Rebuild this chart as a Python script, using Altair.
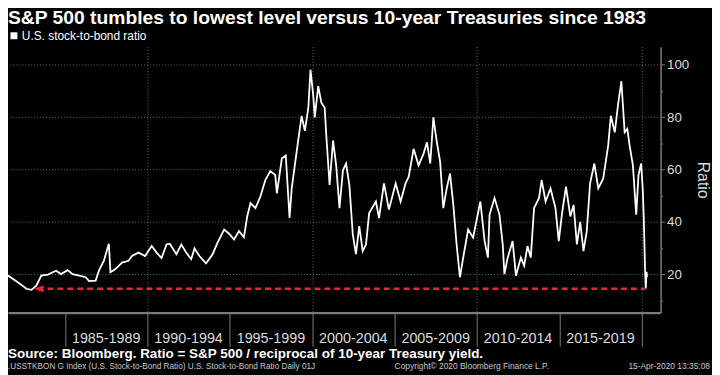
import altair as alt
import pandas as pd

# ---------------- text ----------------
title_text = "S&P 500 tumbles to lowest level versus 10-year Treasuries since 1983"
series_name = "U.S. stock-to-bond ratio"
source_text = "Source: Bloomberg. Ratio = S&P 500 / reciprocal of 10-year Treasury yield."
footer_left = ".USSTKBON G Index (U.S. Stock-to-Bond Ratio) U.S. Stock-to-Bond Ratio  Daily 01J"
footer_mid = "Copyright\u00a9 2020 Bloomberg Finance L.P."
footer_right = "15-Apr-2020 13:35:08"
y_title = "Ratio"

# ---------------- series (decimal year, ratio) ----------------
years = [
    1981.06, 1981.55, 1981.85, 1982.26, 1982.66, 1982.96, 1983.26, 1983.56, 1983.96, 1984.26,
    1984.46, 1984.76, 1985.16, 1985.46, 1985.86, 1986.26, 1986.46, 1986.86, 1987.06, 1987.36,
    1987.66, 1987.76, 1988.06, 1988.46, 1988.86, 1989.06, 1989.46, 1989.86, 1990.26, 1990.56,
    1990.86, 1991.16, 1991.36, 1991.76, 1992.06, 1992.36, 1992.66, 1992.86, 1993.16, 1993.56,
    1993.96, 1994.26, 1994.66, 1994.96, 1995.26, 1995.56, 1995.86, 1996.06, 1996.26, 1996.56,
    1996.86, 1997.16, 1997.46, 1997.76, 1997.86, 1998.16, 1998.40, 1998.63, 1998.76, 1999.06,
    1999.36, 1999.56, 1999.77, 1999.90, 2000.07, 2000.16, 2000.37, 2000.56, 2000.76, 2000.86,
    2001.06, 2001.27, 2001.46, 2001.66, 2001.87, 2002.06, 2002.26, 2002.47, 2002.66, 2002.86,
    2003.07, 2003.27, 2003.46, 2003.87, 2004.06, 2004.36, 2004.66, 2005.07, 2005.37, 2005.67,
    2005.86, 2006.16, 2006.46, 2006.76, 2006.97, 2007.17, 2007.36, 2007.57, 2007.77, 2007.96,
    2008.17, 2008.37, 2008.57, 2008.77, 2008.97, 2009.17, 2009.47, 2009.77, 2010.07, 2010.21,
    2010.47, 2010.67, 2010.77, 2011.07, 2011.37, 2011.57, 2011.67, 2011.87, 2012.17, 2012.37,
    2012.67, 2012.87, 2013.07, 2013.27, 2013.47, 2013.77, 2013.93, 2014.17, 2014.47, 2014.77,
    2014.97, 2015.17, 2015.41, 2015.67, 2015.87, 2016.07, 2016.27, 2016.47, 2016.67, 2016.87,
    2017.13, 2017.37, 2017.67, 2017.97, 2018.13, 2018.37, 2018.57, 2018.77, 2018.97, 2019.13,
    2019.27, 2019.47, 2019.67, 2019.81, 2019.97, 2020.07, 2020.13, 2020.21, 2020.25, 2020.30,
    2020.33,
]
ratio = [
    17.0, 19.5, 18.2, 16.4, 14.5, 14.1, 15.7, 19.5, 19.9, 20.8,
    21.4, 20.1, 21.6, 20.1, 19.5, 18.9, 17.4, 17.6, 21.4, 25.2,
    31.7, 20.8, 22.0, 24.5, 25.2, 27.0, 28.3, 27.0, 30.8, 28.3,
    26.2, 31.4, 31.7, 27.7, 31.4, 28.3, 25.8, 29.9, 27.0, 24.2,
    27.7, 32.1, 37.1, 35.5, 33.3, 36.5, 34.2, 42.1, 47.2, 45.3,
    49.7, 56.0, 59.4, 57.9, 50.9, 64.2, 65.4, 41.5, 52.8, 66.7,
    80.5, 74.8, 83.6, 98.1, 88.1, 79.9, 91.8, 85.5, 83.6, 73.0,
    54.1, 71.1, 61.6, 45.3, 59.7, 62.3, 54.1, 35.2, 27.7, 38.4,
    28.9, 31.4, 43.4, 47.8, 41.5, 54.7, 44.7, 54.7, 47.8, 54.7,
    57.2, 67.9, 61.6, 66.0, 70.4, 62.3, 79.9, 70.4, 62.9, 45.3,
    52.8, 58.5, 46.5, 31.4, 18.9, 26.4, 37.1, 34.0, 43.4, 47.8,
    32.7, 26.4, 42.8, 49.1, 42.8, 31.4, 20.1, 26.4, 32.7, 19.5,
    26.4, 23.3, 30.8, 26.4, 45.3, 49.1, 56.0, 47.8, 52.8, 45.3,
    32.7, 43.4, 53.5, 42.1, 46.5, 31.4, 40.0, 28.9, 36.5, 54.7,
    62.3, 52.8, 56.6, 69.2, 80.5, 74.2, 84.9, 93.7, 74.2, 75.5,
    69.2, 61.6, 42.8, 57.9, 62.3, 52.2, 41.5, 21.4, 14.6, 21.0,
    19.0,
]

# ---------------- axis labels / reference line ----------------
period_labels = ["1985-1989", "1990-1994", "1995-1999", "2000-2004",
                 "2005-2009", "2010-2014", "2015-2019"]
period_mid = [1987.5, 1992.5, 1997.5, 2002.5, 2007.5, 2012.5, 2017.5]
period_bounds = [1985, 1990, 1995, 2000, 2005, 2010, 2015, 2020]
y_ticks = [10, 20, 30, 40, 50, 60, 70, 80, 90, 100]

floor_value = 14.5
floor_start = 1983.34
floor_end = 2020.22
arrow_year = 1983.52

x_domain = [1981.54, 2021.15]
y_domain = [5.4, 106.9]

W, H = 660, 269
FONT = "Liberation Sans"
RED = "#f2213a"
GRID = "#6a6a6a"
AXIS = "#7a7a7a"
LABEL = "#dcdcdc"

xs = alt.Scale(domain=x_domain, nice=False, zero=False)
ys = alt.Scale(domain=y_domain, nice=False, zero=False)

x_axis = alt.Axis(
    values=period_bounds, title=None, labels=False,
    grid=True, gridColor=GRID, gridDash=[1, 2], gridWidth=1,
    gridOpacity={"condition": {"test": "datum.value % 10 === 0", "value": 1}, "value": 0},
    tickSize=34, tickColor=AXIS, tickWidth=1,
    domainColor=AXIS, domainWidth=2.5)

y_axis = alt.Axis(
    orient="right", values=y_ticks, title=y_title, titleAngle=90,
    titleColor=LABEL, titleFont=FONT, titleFontSize=16, titleFontWeight="normal",
    titlePadding=6,
    labelExpr="datum.value % 20 === 0 ? datum.label : ''",
    labelColor=LABEL, labelFont=FONT, labelFontSize=13.5, labelPadding=2,
    tickSize={"condition": {"test": "datum.value % 20 === 0", "value": 4}, "value": 2},
    tickColor=AXIS, domainColor=AXIS, domainWidth=1.5,
    grid=True, gridColor=GRID, gridDash=[1, 2], gridWidth=1,
    gridOpacity={"condition": {"test": "datum.value % 20 === 0", "value": 1}, "value": 0})

df = pd.DataFrame({"year": years, "ratio": ratio, "series": series_name})

line = alt.Chart(df).mark_line(strokeWidth=1.8, clip=True).encode(
    x=alt.X("year:Q", scale=xs, axis=x_axis),
    y=alt.Y("ratio:Q", scale=ys, axis=y_axis),
    color=alt.Color("series:N", scale=alt.Scale(range=["#ffffff"]), legend=alt.Legend(
        orient="none", legendX=0, legendY=-17, title=None, padding=0,
        symbolType="square", symbolSize=49, symbolFillColor="#ffffff",
        symbolStrokeColor="#ffffff", symbolStrokeWidth=0,
        labelColor="#ffffff", labelFont=FONT, labelFontSize=12, labelOffset=2)),
)

floor_df = pd.DataFrame({"year": [floor_start], "year_end": [floor_end], "ratio": [floor_value]})
floor = alt.Chart(floor_df).mark_rule(color=RED, strokeWidth=2.5, strokeDash=[6, 4]).encode(
    x=alt.X("year:Q", scale=xs, axis=x_axis),
    x2="year_end:Q",
    y=alt.Y("ratio:Q", scale=ys, axis=y_axis),
)

arrow_df = pd.DataFrame({"year": [arrow_year], "ratio": [floor_value]})
arrow = alt.Chart(arrow_df).mark_point(
    shape="M 1 -0.75 L -1 0 L 1 0.75", filled=False, stroke=RED,
    strokeWidth=2.5, size=36, opacity=1).encode(
    x=alt.X("year:Q", scale=xs, axis=x_axis),
    y=alt.Y("ratio:Q", scale=ys, axis=y_axis),
)

period_df = pd.DataFrame({"year": period_mid, "label": period_labels})
period_text = alt.Chart(period_df).mark_text(
    font=FONT, fontSize=14.5, color=LABEL, baseline="alphabetic", align="center").encode(
    x=alt.X("year:Q", scale=xs, axis=x_axis),
    y=alt.value(300),
    text="label:N",
)


def note(txt, x, y, size, weight="normal", color="#ffffff", align="left"):
    return alt.Chart(pd.DataFrame({"t": [txt]})).mark_text(
        font=FONT, fontSize=size, fontWeight=weight, color=color,
        align=align, baseline="alphabetic").encode(
        x=alt.value(x), y=alt.value(y), text="t:N")


title = note(title_text, 0, -23, 19.5, "bold")
source = note(source_text, 0, 315, 13.6, "bold")
foot1 = note(footer_left, 0, 326, 8.3, color="#c8c8c8")
foot2 = note(footer_mid, 391, 326, 8.5, color="#c8c8c8")
foot3 = note(footer_right, 710, 326, 8.5, color="#c8c8c8", align="right")

chart = alt.layer(
    line, floor, arrow, period_text, title, source, foot1, foot2, foot3
).properties(
    width=W, height=H,
    autosize=alt.AutoSizeParams(type="none"),
    padding={"left": 0, "top": 37, "right": 52, "bottom": 61},
    background="#000000",
).configure_view(stroke=None)

chart.save("out.html", embed_options={"renderer": "svg", "actions": False})
